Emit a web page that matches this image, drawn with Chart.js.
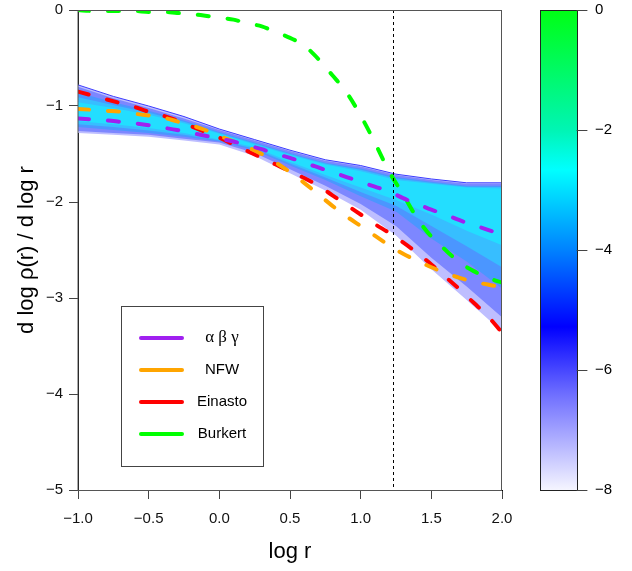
<!DOCTYPE html>
<html>
<head>
<meta charset="utf-8">
<script src="https://cdn.jsdelivr.net/npm/chart.js@4.4.0/dist/chart.umd.min.js"></script>
<style>
html, body { margin: 0; padding: 0; background: #fff; }
</style>
</head>
<body>
<canvas id="chart" width="632" height="571"></canvas>
<script>
// log r grid for the model curves
var logR = [-1.0, -0.9, -0.8, -0.7, -0.6, -0.5, -0.4, -0.3, -0.2, -0.1, 0.0,
            0.1, 0.2, 0.3, 0.4, 0.5, 0.6, 0.7, 0.8, 0.9, 1.0,
            1.1, 1.2, 1.3, 1.4, 1.5, 1.6, 1.7, 1.8, 1.9, 2.0];
var abg = [-1.13, -1.14, -1.15, -1.165, -1.18, -1.20, -1.225, -1.25, -1.28, -1.31, -1.34,
           -1.37, -1.41, -1.45, -1.50, -1.54, -1.59, -1.64, -1.69, -1.74, -1.79,
           -1.84, -1.89, -1.96, -2.02, -2.08, -2.13, -2.19, -2.24, -2.29, -2.34];
var nfw = [-1.03, -1.04, -1.05, -1.06, -1.08, -1.10, -1.12, -1.16, -1.20, -1.25, -1.31,
           -1.37, -1.43, -1.50, -1.59, -1.69, -1.80, -1.92, -2.04, -2.15, -2.25,
           -2.35, -2.45, -2.54, -2.61, -2.68, -2.74, -2.79, -2.83, -2.86, -2.89];
var einasto = [-0.85, -0.89, -0.93, -0.97, -1.01, -1.06, -1.10, -1.15, -1.21, -1.27, -1.33,
               -1.40, -1.47, -1.54, -1.61, -1.68, -1.75, -1.83, -1.93, -2.03, -2.13,
               -2.23, -2.32, -2.42, -2.53, -2.65, -2.78, -2.91, -3.05, -3.19, -3.36];
var burkert = [0.00, -0.01, -0.01, -0.01, -0.01, -0.02, -0.02, -0.03, -0.04, -0.06, -0.08,
               -0.10, -0.14, -0.17, -0.23, -0.29, -0.37, -0.51, -0.68, -0.86, -1.10,
               -1.38, -1.68, -1.92, -2.17, -2.36, -2.50, -2.63, -2.72, -2.79, -2.84];

// posterior density band, drawn as nested layers (outer -> core)
var bandX = [-1.0, -0.75, -0.5, -0.25, 0.0, 0.25, 0.5, 0.75, 1.0, 1.25, 1.5, 1.75, 2.0];
var band0Top = [-0.78, -0.90, -1.00, -1.11, -1.24, -1.35, -1.46, -1.56, -1.62, -1.71, -1.76, -1.80, -1.80];
var band0Bot = [-1.28, -1.30, -1.32, -1.36, -1.40, -1.52, -1.70, -1.88, -2.08, -2.35, -2.70, -3.02, -3.35];
var band1Top = [-0.80, -0.92, -1.02, -1.13, -1.25, -1.36, -1.47, -1.57, -1.63, -1.72, -1.77, -1.81, -1.81];
var band1Bot = [-1.26, -1.28, -1.30, -1.34, -1.38, -1.49, -1.66, -1.83, -2.02, -2.25, -2.58, -2.88, -3.20];
var band2Top = [-0.86, -0.96, -1.05, -1.15, -1.27, -1.38, -1.49, -1.59, -1.65, -1.74, -1.79, -1.83, -1.83];
var band2Bot = [-1.22, -1.25, -1.28, -1.32, -1.37, -1.46, -1.62, -1.77, -1.94, -2.10, -2.38, -2.62, -2.90];
var band3Top = [-0.91, -0.99, -1.07, -1.165, -1.28, -1.39, -1.50, -1.60, -1.665, -1.755, -1.80, -1.84, -1.845];
var band3Bot = [-1.19, -1.22, -1.255, -1.30, -1.36, -1.445, -1.60, -1.745, -1.895, -2.04, -2.25, -2.46, -2.68];
var band4Top = [-0.96, -1.02, -1.09, -1.18, -1.29, -1.40, -1.51, -1.61, -1.68, -1.77, -1.81, -1.85, -1.86];
var band4Bot = [-1.16, -1.19, -1.23, -1.28, -1.35, -1.43, -1.58, -1.72, -1.85, -1.98, -2.13, -2.30, -2.45];

var xTicks = [-1.0, -0.5, 0.0, 0.5, 1.0, 1.5, 2.0];
var yTicks = [0, -1, -2, -3, -4, -5];
var vlineX = 1.23;

var legendLabels = ['\u03b1 \u03b2 \u03b3', 'NFW', 'Einasto', 'Burkert'];
var legendColors = ['#A020F0', '#FFA500', '#FF0000', '#00FF00'];

// colour bar
var cbTicks = [0, -2, -4, -6, -8];
var cbStops = [0, 0.25, 0.333, 0.5, 0.66, 0.8, 1];
var cbColors = ['rgb(0,255,20)', 'rgb(0,245,180)', 'rgb(0,255,255)', 'rgb(0,130,255)',
                'rgb(0,0,255)', 'rgb(110,110,255)', 'rgb(245,245,255)'];

function pts(xs, ys) {
    return xs.map(function(x, i) { return {x: x, y: ys[i]}; });
}
function minus(s) { return String(s).replace('-', '\u2212'); }

var FONT = '"Liberation Sans", Arial, sans-serif';

function bandLayer(top, bot, color, order, edge) {
    return [{
        data: pts(bandX, top), backgroundColor: color,
        borderColor: edge || color, borderWidth: edge ? 1 : 0,
        pointRadius: 0, fill: '+1', order: order
    }, {
        data: pts(bandX, bot), borderWidth: 0, pointRadius: 0,
        fill: false, order: order
    }];
}
function curve(ys, color) {
    return {
        data: pts(logR, ys), borderColor: color, borderWidth: 4,
        borderDash: [11, 19], borderCapStyle: 'round', pointRadius: 0,
        fill: false, order: 0, cubicInterpolationMode: 'monotone'
    };
}

var datasets = [].concat(
    bandLayer(band0Top, band0Bot, 'rgb(190,190,255)', 5, 'rgb(60,60,255)'),
    bandLayer(band1Top, band1Bot, 'rgb(125,135,255)', 4),
    bandLayer(band2Top, band2Bot, 'rgb(75,150,255)', 3),
    bandLayer(band3Top, band3Bot, 'rgb(55,190,255)', 2),
    bandLayer(band4Top, band4Bot, 'rgb(35,222,255)', 1),
    [curve(abg, legendColors[0]), curve(nfw, legendColors[1]),
     curve(einasto, legendColors[2]), curve(burkert, legendColors[3])]
);

var extras = {
    id: 'extras',
    afterDatasetsDraw: function(chart) {
        var ctx = chart.ctx, a = chart.chartArea, xs = chart.scales.x;
        var px = Math.round(xs.getPixelForValue(vlineX)) + 0.5;
        ctx.save();
        ctx.strokeStyle = '#000';
        ctx.lineWidth = 1;
        ctx.setLineDash([3, 3]);
        ctx.beginPath();
        ctx.moveTo(px, a.top);
        ctx.lineTo(px, a.bottom);
        ctx.stroke();
        ctx.restore();
    },
    afterDraw: function(chart) {
        var ctx = chart.ctx, a = chart.chartArea;
        ctx.save();
        // box
        ctx.strokeStyle = '#555';
        ctx.lineWidth = 1;
        ctx.strokeRect(a.left, a.top + 0.5, a.right - a.left - 0.5, a.bottom - a.top);

        // legend
        var lx = a.left + 43, ly = a.top + 296, lw = 142, lh = 160;
        ctx.strokeStyle = '#444';
        ctx.strokeRect(lx + 0.5, ly + 0.5, lw, lh);
        legendLabels.forEach(function(lab, i) {
            var y = ly + 32 + i * 32;
            ctx.strokeStyle = legendColors[i];
            ctx.lineWidth = 4;
            ctx.lineCap = 'round';
            ctx.beginPath();
            ctx.moveTo(lx + 20, y);
            ctx.lineTo(lx + 61, y);
            ctx.stroke();
            ctx.fillStyle = '#000';
            ctx.textAlign = 'center';
            ctx.textBaseline = 'middle';
            ctx.font = i === 0 ? '17px "Liberation Serif", serif' : '15px ' + FONT;
            ctx.fillText(lab, lx + 101, y);
        });

        // axis titles
        ctx.fillStyle = '#000';
        ctx.font = '22px ' + FONT;
        ctx.textAlign = 'center';
        ctx.textBaseline = 'middle';
        ctx.fillText('log r', (a.left + a.right) / 2, 552);
        ctx.save();
        ctx.translate(27, (a.top + a.bottom) / 2);
        ctx.rotate(-Math.PI / 2);
        ctx.fillText('d log \u03c1(r) / d log r', 0, 0);
        ctx.restore();

        // colour bar
        var cx0 = 540, cx1 = 577;
        var g = ctx.createLinearGradient(0, a.top, 0, a.bottom);
        cbStops.forEach(function(s, i) { g.addColorStop(s, cbColors[i]); });
        ctx.fillStyle = g;
        ctx.fillRect(cx0, a.top, cx1 - cx0, a.bottom - a.top);
        ctx.strokeStyle = '#222';
        ctx.lineWidth = 1;
        ctx.strokeRect(cx0 + 0.5, a.top + 0.5, cx1 - cx0, a.bottom - a.top);
        ctx.font = '15px ' + FONT;
        ctx.textAlign = 'left';
        ctx.fillStyle = '#000';
        cbTicks.forEach(function(v) {
            var y = a.top + (0 - v) / 8 * (a.bottom - a.top);
            ctx.beginPath();
            ctx.strokeStyle = '#444';
            ctx.moveTo(cx1, Math.round(y) + 0.5);
            ctx.lineTo(cx1 + 10, Math.round(y) + 0.5);
            ctx.stroke();
            ctx.fillText(minus(v), 595, y);
        });
        ctx.restore();
    }
};

var ctx = document.getElementById('chart').getContext('2d');
var chart = new Chart(ctx, {
    type: 'line',
    data: { datasets: datasets },
    options: {
        responsive: false,
        animation: false,
        layout: { padding: { left: 0, right: 130, top: 10, bottom: 0 } },
        plugins: { legend: { display: false }, tooltip: { enabled: false } },
        scales: {
            x: {
                type: 'linear', min: -1, max: 2,
                afterFit: function(s) { s.height = 81; s.paddingLeft = 0; s.paddingRight = 0; },
                afterBuildTicks: function(s) { s.ticks = xTicks.map(function(v) { return {value: v}; }); },
                grid: { drawOnChartArea: false, tickLength: 9, tickColor: '#444' },
                border: { color: '#000', width: 1 },
                ticks: {
                    padding: 11, color: '#111', font: { size: 15, family: FONT },
                    maxRotation: 0,
                    callback: function(v) { return minus(Number(v).toFixed(1)); }
                }
            },
            y: {
                type: 'linear', min: -5, max: 0,
                afterFit: function(s) { s.width = 78; s.paddingTop = 0; s.paddingBottom = 0; },
                afterBuildTicks: function(s) { s.ticks = yTicks.map(function(v) { return {value: v}; }); },
                grid: { drawOnChartArea: false, tickLength: 9, tickColor: '#444' },
                border: { color: '#000', width: 1 },
                ticks: {
                    padding: 6, color: '#111', font: { size: 15, family: FONT },
                    callback: function(v) { return minus(v); }
                }
            }
        }
    },
    plugins: [extras]
});
</script>
</body>
</html>
